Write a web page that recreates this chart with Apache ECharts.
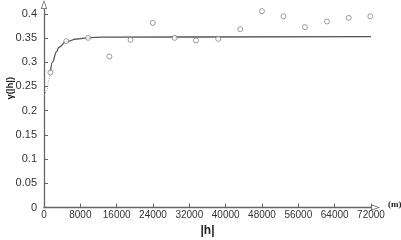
<!DOCTYPE html>
<html>
<head>
<meta charset="utf-8">
<script src="https://cdn.jsdelivr.net/npm/echarts@6/dist/echarts.min.js"></script>
<style>html,body{margin:0;padding:0;background:#fff}#c{width:401px;height:240px}</style>
</head>
<body>
<div id="c"></div>
<script>
// Experimental semivariogram points
var lagH = [1410, 4900, 9700, 14400, 19050, 23950, 28750, 33450, 38350, 43200, 48000, 52750, 57450, 62300, 67100, 71850];
var gammaVals = [0.279, 0.3436, 0.3504, 0.312, 0.3463, 0.3813, 0.3504, 0.345, 0.3483, 0.3683, 0.4055, 0.395, 0.3725, 0.3842, 0.3917, 0.395];
// Fitted model curve
var fitH = [0, 660, 1040, 1410, 1850, 2730, 3300, 4780, 7140, 9700, 13000, 72000];
var fitG = [0.226, 0.2425, 0.263, 0.2795, 0.300, 0.3215, 0.331, 0.342, 0.348, 0.3505, 0.352, 0.3529];
var dottedEnd = 3; // index where the dotted part of the curve ends
// Tick labels
var xTicks = [0, 8000, 16000, 24000, 32000, 40000, 48000, 56000, 64000, 72000];
var xLabels = ['0', '8000', '16000', '24000', '32000', '40000', '48000', '56000', '64000', '72000'];
var yTicks = [0, 0.05, 0.1, 0.15, 0.2, 0.25, 0.3, 0.35, 0.4];
var yLabels = ['0', '0.05', '0.1', '0.15', '0.2', '0.25', '0.3', '0.35', '0.4'];

var pts = lagH.map(function (h, i) { return [h, gammaVals[i]]; });
var fit = fitH.map(function (h, i) { return [h, fitG[i]]; });
var fitDotted = fit.slice(0, dottedEnd + 1);
var fitSolid = fit.slice(dottedEnd);

var arrowPath = 'path://M5,0 L10,14 L0,14 Z M5,3.2 L1.7,12.7 L8.3,12.7 Z';
var axisColor = '#666';
var chart = echarts.init(document.getElementById('c'), null, {renderer: 'canvas'});
chart.setOption({
  backgroundColor: '#fff',
  animation: false,
  grid: {left: 44, right: 30, top: 9, bottom: 32.5, containLabel: false, outerBoundsMode: 'none'},
  xAxis: {
    type: 'value', min: 0, max: 72000, interval: 8000,
    name: '|h|', nameLocation: 'middle', nameGap: 17, nameMoveOverlap: false,
    nameTextStyle: {fontFamily: 'Liberation Sans', fontWeight: 'bold', fontSize: 12, color: '#222'},
    axisLine: {show: true, onZero: false, lineStyle: {color: axisColor, width: 1.3},
      symbol: ['none', arrowPath], symbolSize: [7, 9], symbolOffset: [0, 4.5]},
    axisTick: {show: true, inside: true, length: 4, lineStyle: {color: axisColor},
      customValues: xTicks},
    axisLabel: {margin: 3, fontFamily: 'Liberation Sans', fontSize: 10, color: '#333',
      customValues: xTicks,
      formatter: function (v) { var i = xTicks.indexOf(v); return i >= 0 ? xLabels[i] : ''; }},
    splitLine: {show: false}
  },
  yAxis: {
    type: 'value', min: 0, max: 0.41,
    name: 'γ(|h|)', nameLocation: 'middle', nameGap: 29, nameRotate: 90, nameMoveOverlap: false,
    nameTextStyle: {fontFamily: 'Liberation Sans', fontWeight: 'bold', fontSize: 9.5, color: '#222',
      padding: [0, 0, 0, 40]},
    axisLine: {show: true, onZero: false, lineStyle: {color: axisColor, width: 1.3},
      symbol: ['none', arrowPath], symbolSize: [7, 9], symbolOffset: [0, 4.5]},
    axisTick: {show: true, inside: true, length: 4, lineStyle: {color: axisColor},
      customValues: yTicks},
    axisLabel: {margin: 7, fontFamily: 'Liberation Sans', fontSize: 11, color: '#333',
      customValues: yTicks,
      formatter: function (v) { var i = yTicks.indexOf(v); return i >= 0 ? yLabels[i] : ''; }},
    splitLine: {show: false}
  },
  graphic: [{
    type: 'text', left: 388, top: 200,
    style: {text: '(m)', font: 'bold 9px "Liberation Serif"', fill: '#222'}
  }],
  series: [
    {type: 'line', data: fitDotted, showSymbol: false, smooth: 0.4, smoothMonotone: 'x',
      lineStyle: {color: '#999', width: 1, type: [1, 1.5]}, z: 2},
    {type: 'line', data: fitSolid, showSymbol: false, smooth: 0.4, smoothMonotone: 'x',
      lineStyle: {color: '#555', width: 1.3}, z: 2},
    {type: 'scatter', data: pts, symbol: 'circle', symbolSize: 5,
      itemStyle: {color: '#fff', borderColor: '#666', borderWidth: 0.8}, z: 3}
  ]
});
</script>
</body>
</html>
